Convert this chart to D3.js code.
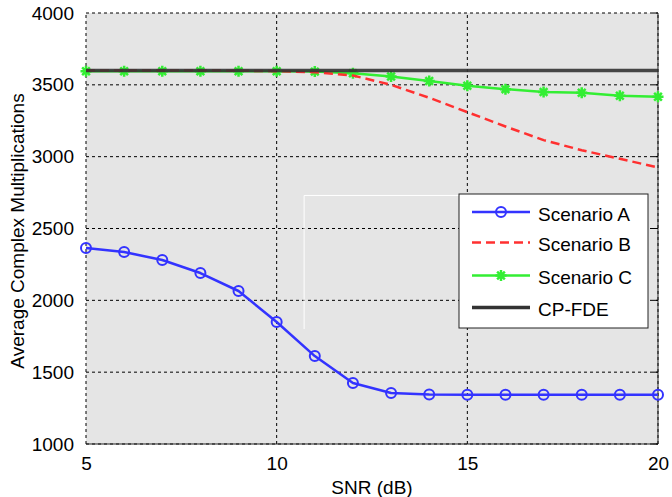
<!DOCTYPE html>
<html>
<head>
<meta charset="utf-8">
<script src="https://cdn.jsdelivr.net/npm/d3@7"></script>
<style>
  body { margin: 0; background: #fff; }
  text { font-family: "Liberation Sans", Arial, sans-serif; }
</style>
</head>
<body>
<svg id="chart" width="672" height="497"></svg>
<script>
// data
const snr = [5, 6, 7, 8, 9, 10, 11, 12, 13, 14, 15, 16, 17, 18, 19, 20]
const scenarioA = [2364, 2336, 2281, 2190, 2065, 1849, 1612, 1425, 1355, 1345, 1343, 1343, 1343, 1343, 1343, 1343]
const scenarioB = [3600, 3600, 3600, 3600, 3598, 3595, 3588, 3565, 3500, 3410, 3310, 3210, 3115, 3045, 2985, 2925]
const scenarioC = [3595, 3595, 3595, 3595, 3595, 3595, 3592, 3580, 3558, 3527, 3494, 3470, 3450, 3445, 3424, 3417]
const cpFde = snr.map(() => 3600)
const xTicks = [5, 10, 15, 20]
const yTicks = [1000, 1500, 2000, 2500, 3000, 3500, 4000]

const margin = {left: 86, right: 14, top: 13, bottom: 53}
const width = 672, height = 497
const fontSize = 19

const svg = d3.select("#chart")

const x = d3.scaleLinear().domain([5, 20]).range([margin.left, width - margin.right])
const y = d3.scaleLinear().domain([1000, 4000]).range([height - margin.bottom, margin.top])

// plot background
svg.append("rect")
  .attr("x", x(5)).attr("y", y(4000))
  .attr("width", x(20) - x(5)).attr("height", y(1000) - y(4000))
  .attr("fill", "#e5e5e5")

// grid
svg.append("g")
  .selectAll("line")
  .data(xTicks)
  .join("line")
  .attr("x1", d => x(d)).attr("x2", d => x(d))
  .attr("y1", y(1000)).attr("y2", y(4000))
  .attr("stroke", "#000").attr("stroke-width", 1)
  .attr("stroke-dasharray", "3,3")

svg.append("g")
  .selectAll("line")
  .data(yTicks)
  .join("line")
  .attr("x1", x(5)).attr("x2", x(20))
  .attr("y1", d => y(d)).attr("y2", d => y(d))
  .attr("stroke", "#000").attr("stroke-width", 1)
  .attr("stroke-dasharray", "3,3")

// white stray lines seen in reference
svg.append("path")
  .attr("d", `M${x(10.72)},${y(1800)} V${y(2730)} H${x(14.85)}`)
  .attr("fill", "none").attr("stroke", "#fff").attr("stroke-width", 1)

// frame: bottom and right solid
svg.append("path")
  .attr("d", `M${x(5)},${y(1000)} H${x(20)} V${y(4000)}`)
  .attr("fill", "none").attr("stroke", "#222").attr("stroke-width", 1)

// axes (labels only, ticks inside)
const xAxis = d3.axisBottom(x).tickValues(xTicks).tickSize(0).tickPadding(12.5)
svg.append("g")
  .attr("transform", `translate(0,${y(1000)})`)
  .call(xAxis)
  .call(g => g.select(".domain").remove())
  .selectAll("text")
  .attr("font-size", fontSize).attr("fill", "#000")
  .attr("font-family", "Liberation Sans, Arial, sans-serif")

const yAxis = d3.axisLeft(y).tickValues(yTicks).tickFormat(d3.format("d")).tickSize(0).tickPadding(12)
svg.append("g")
  .attr("transform", `translate(${x(5)},0)`)
  .call(yAxis)
  .call(g => g.select(".domain").remove())
  .selectAll("text")
  .attr("font-size", fontSize).attr("fill", "#000")
  .attr("font-family", "Liberation Sans, Arial, sans-serif")

// inner tick marks on the right edge
svg.append("g")
  .selectAll("line")
  .data(yTicks)
  .join("line")
  .attr("x1", x(20) - 5).attr("x2", x(20))
  .attr("y1", d => y(d)).attr("y2", d => y(d))
  .attr("stroke", "#000")

svg.append("text")
  .attr("x", (x(5) + x(20)) / 2).attr("y", 494)
  .attr("text-anchor", "middle").attr("font-size", fontSize)
  .text("SNR (dB)")

svg.append("text")
  .attr("transform", `translate(24,231) rotate(-90)`)
  .attr("text-anchor", "middle").attr("font-size", fontSize)
  .text("Average Complex Multiplications")

const line = d3.line().x((d, i) => x(snr[i])).y(d => y(d))

// series
const series = [
  {name: "Scenario A", values: scenarioA, color: "#3333ff", width: 2.5, dash: null, marker: "circle"},
  {name: "Scenario B", values: scenarioB, color: "#ff3030", width: 2.5, dash: "9,5", marker: null},
  {name: "Scenario C", values: scenarioC, color: "#33ee33", width: 2.5, dash: null, marker: "star"},
  {name: "CP-FDE", values: cpFde, color: "#333333", width: 3.5, dash: null, marker: null}
]

const drawOrder = [series[2], series[1], series[3], series[0]]

function asterisk(size){
  const s = size, d = size * 0.7
  return `M${-s},0H${s}M0,${-s}V${s}M${-d},${-d}L${d},${d}M${-d},${d}L${d},${-d}`
}

function drawMarker(g, marker, color){
  if(marker === "circle"){
    g.append("circle").attr("r", 5)
      .attr("fill", "none").attr("stroke", color).attr("stroke-width", 2)
  } else if(marker === "star"){
    g.append("path").attr("d", asterisk(5.5))
      .attr("stroke", color).attr("stroke-width", 2.5).attr("fill", "none")
  }
}

drawOrder.forEach((s) => {
  svg.append("path")
    .datum(s.values)
    .attr("d", line)
    .attr("fill", "none")
    .attr("stroke", s.color)
    .attr("stroke-width", s.width)
    .attr("stroke-dasharray", s.dash)
    .attr("stroke-linejoin", "round")
    .attr("opacity", s.name === "CP-FDE" ? 0.9 : 1)

  if(s.marker){
    svg.append("g")
      .selectAll("g")
      .data(s.values)
      .join("g")
      .attr("transform", (d, i) => `translate(${x(snr[i])},${y(d)})`)
      .each(function(){ drawMarker(d3.select(this), s.marker, s.color) })
  }
})

// legend
const legendRows = [212, 242.5, 275.5, 307.5]
const legend = svg.append("g").attr("transform", "translate(459,194)")
legend.append("rect")
  .attr("width", 189).attr("height", 134)
  .attr("fill", "#fff").attr("stroke", "#222").attr("stroke-width", 1)

series.forEach((s, i) => {
  const row = legend.append("g").attr("transform", `translate(0,${legendRows[i] - 194})`)
  row.append("line")
    .attr("x1", 13).attr("x2", 71)
    .attr("stroke", s.color).attr("stroke-width", s.width)
    .attr("stroke-dasharray", s.dash)
  const m = row.append("g").attr("transform", "translate(42,0)")
  drawMarker(m, s.marker, s.color)
  row.append("text")
    .attr("x", 79).attr("y", 8.5)
    .attr("font-size", fontSize)
    .text(s.name)
})
</script>
</body>
</html>
